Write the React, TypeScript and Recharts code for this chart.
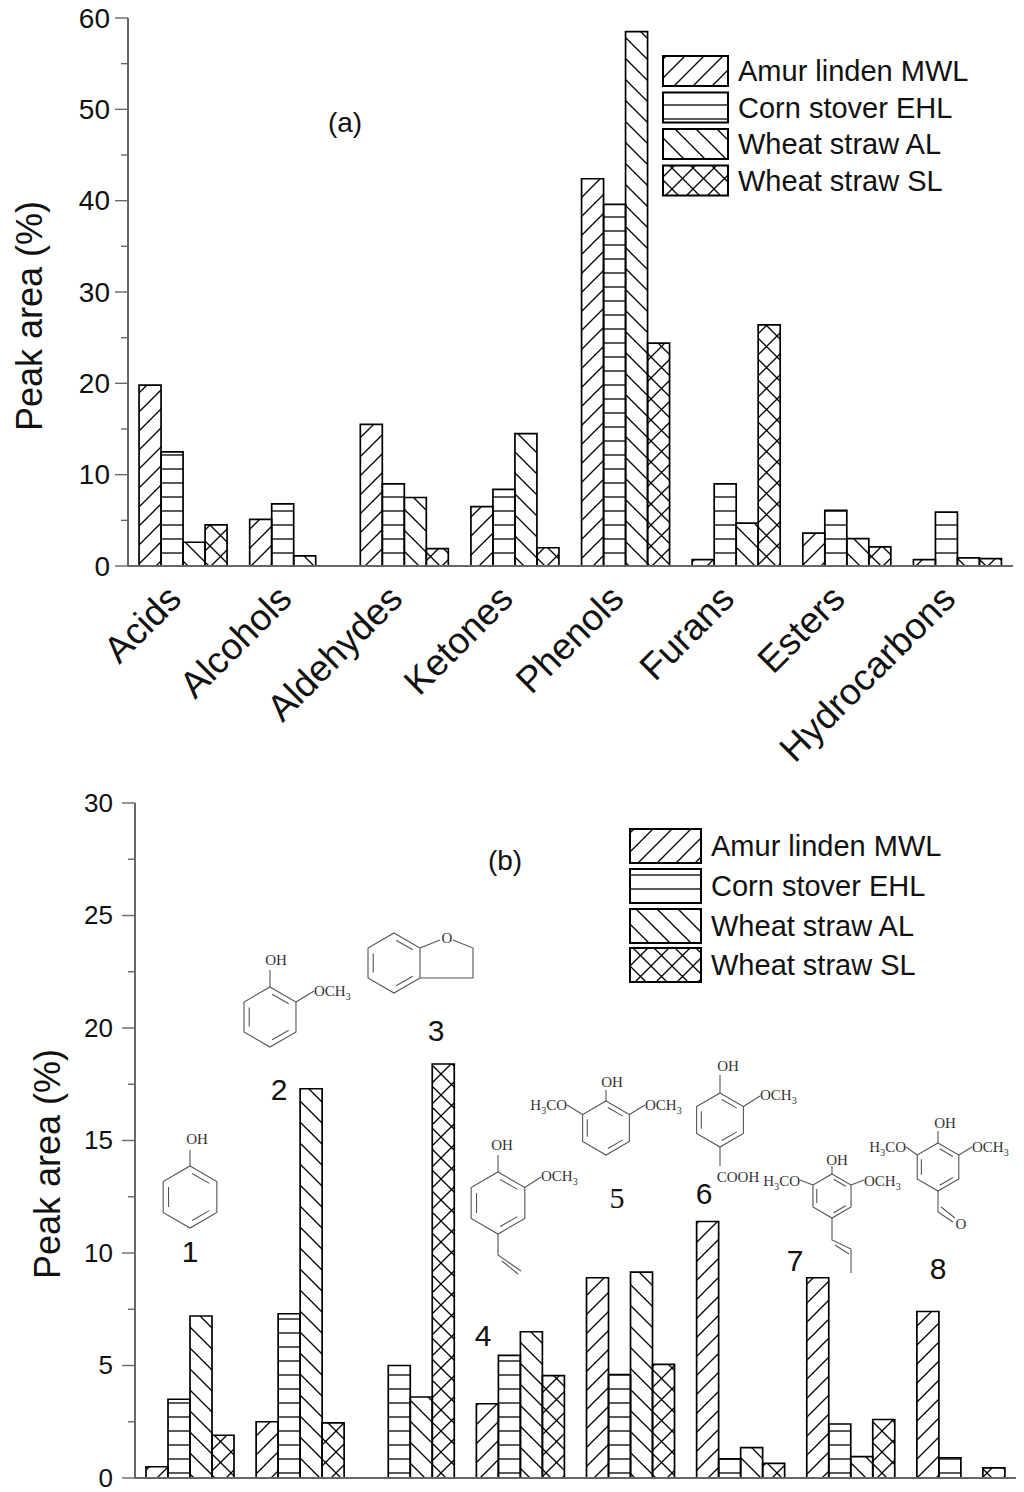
import React from 'react';
import { BarChart, Bar, XAxis, YAxis, Label } from 'recharts';

// panel (a): pyrolysis product classes
const classes = ['Acids', 'Alcohols', 'Aldehydes', 'Ketones', 'Phenols', 'Furans', 'Esters', 'Hydrocarbons'];
const amurA = [19.8, 5.1, 15.5, 6.5, 42.4, 0.7, 3.6, 0.7];
const cornA = [12.5, 6.8, 9.0, 8.4, 39.6, 9.0, 6.1, 5.9];
const wheatAlA = [2.6, 1.1, 7.5, 14.5, 58.5, 4.7, 3.0, 0.9];
const wheatSlA = [4.5, null, 1.9, 2.0, 24.4, 26.4, 2.1, 0.8];

// panel (b): individual phenolic compounds 1-8
const compounds = ['1', '2', '3', '4', '5', '6', '7', '8'];
const amurB = [0.5, 2.5, null, 3.3, 8.9, 11.4, 8.9, 7.4];
const cornB = [3.5, 7.3, 5.0, 5.45, 4.6, 0.85, 2.4, 0.9];
const wheatAlB = [7.2, 17.3, 3.6, 6.5, 9.15, 1.35, 0.95, null];
const wheatSlB = [1.9, 2.45, 18.4, 4.55, 5.05, 0.65, 2.6, 0.45];

const seriesNames = ['Amur linden MWL', 'Corn stover EHL', 'Wheat straw AL', 'Wheat straw SL'];
const ticksA = [0, 5, 10, 15, 20, 25, 30, 35, 40, 45, 50, 55, 60];
const ticksB = [0, 2.5, 5, 7.5, 10, 12.5, 15, 17.5, 20, 22.5, 25, 27.5, 30];

const dataA = classes.map((c, i) => ({ name: c, amur: amurA[i], corn: cornA[i], al: wheatAlA[i], sl: wheatSlA[i] }));
const dataB = compounds.map((c, i) => ({ name: c, amur: amurB[i], corn: cornB[i], al: wheatAlB[i], sl: wheatSlB[i] }));

const FONT = '"Liberation Sans", Arial, sans-serif';
const SERIF = '"Liberation Serif", "Times New Roman", serif';
const fills = ['url(#pAmur)', 'url(#pCorn)', 'url(#pAL)', 'url(#pSL)'];
const keys = ['amur', 'corn', 'al', 'sl'];
const FRAME = '#666';

const yTick = (left: number, major: number, gap: number, fs: number) => (props: any) => {
  const { y, payload } = props;
  const v = payload.value;
  const isMajor = Math.abs(v / major - Math.round(v / major)) < 1e-6;
  return (
    <g>
      <line x1={left - (isMajor ? 13 : 7)} x2={left} y1={y} y2={y} stroke={FRAME} strokeWidth={1.4} />
      {isMajor && (
        <text x={left - gap} y={y} dy="0.34em" textAnchor="end" fontSize={fs} fontFamily={FONT} fill="#111">
          {v}
        </text>
      )}
    </g>
  );
};

const xTickA = (props: any) => {
  const { x, payload } = props;
  return (
    <text
      transform={`translate(${x},${601}) rotate(-45)`}
      textAnchor="end"
      fontSize={37}
      fontFamily={FONT}
      fill="#111"
    >
      {payload.value}
    </text>
  );
};

const yLabel = (cx: number, cy: number) => () => (
  <text
    transform={`translate(${cx},${cy}) rotate(-90)`}
    textAnchor="middle"
    dy="0.36em"
    fontSize={36}
    fontFamily={FONT}
    fill="#111"
  >
    Peak area (%)
  </text>
);

const bars = () =>
  keys.map((k, i) => (
    <Bar
      key={k}
      dataKey={k}
      name={seriesNames[i]}
      xAxisId="b"
      yAxisId="l"
      fill={fills[i]}
      stroke="#000"
      strokeWidth={1.7}
      isAnimationActive={false}
    />
  ));

type Pt = [number, number];
const hex = (cx: number, cy: number, r: number): Pt[] =>
  [0, 1, 2, 3, 4, 5].map((i) => {
    const a = (Math.PI / 180) * (-90 + 60 * i);
    return [cx + r * Math.cos(a), cy + r * Math.sin(a)] as Pt;
  });

const SC = '#555';

const Ring = ({ cx, cy, r }: { cx: number; cy: number; r: number }) => {
  const p = hex(cx, cy, r);
  const inner = (i: number, j: number) => {
    const k = 0.8;
    const a = [cx + (p[i][0] - cx) * k, cy + (p[i][1] - cy) * k];
    const b = [cx + (p[j][0] - cx) * k, cy + (p[j][1] - cy) * k];
    const s = 0.1;
    return (
      <line
        x1={a[0] + (b[0] - a[0]) * s}
        y1={a[1] + (b[1] - a[1]) * s}
        x2={b[0] - (b[0] - a[0]) * s}
        y2={b[1] - (b[1] - a[1]) * s}
        stroke={SC}
        strokeWidth={1.1}
      />
    );
  };
  return (
    <g>
      <polygon points={p.map((q) => q.join(',')).join(' ')} fill="none" stroke={SC} strokeWidth={1.1} />
      {inner(0, 1)}
      {inner(2, 3)}
      {inner(4, 5)}
    </g>
  );
};

const bond = (pts: number[]) => <polyline points={pts.join(',')} fill="none" stroke={SC} strokeWidth={1.1} />;
const V = (cx: number, cy: number, r: number, i: number) => hex(cx, cy, r)[i];

const sub3 = (a: string, b: string) => (
  <>
    {a}
    <tspan dy={4} fontSize={10}>3</tspan>
    <tspan dy={-4}>{b}</tspan>
  </>
);

const Chem = ({ x, y, anchor = 'middle', children }: any) => (
  <text x={x} y={y} textAnchor={anchor} fontSize={15} fontFamily={SERIF} fill="#333">
    {children}
  </text>
);

const Structures = () => {
  const s4 = V(498, 1203, 31, 3);
  const s7 = V(832, 1196, 22, 3);
  const s8 = V(938, 1167, 24, 3);
  const s6 = V(720, 1120, 27, 3);
  return (
    <g>
      {/* 1 phenol */}
      <Ring cx={190} cy={1197} r={31} />
      {bond([190, 1166, 190, 1150])}
      <Chem x={197} y={1144}>OH</Chem>
      {/* 2 guaiacol */}
      <Ring cx={270} cy={1017} r={30} />
      {bond([270, 987, 270, 970])}
      <Chem x={276} y={965}>OH</Chem>
      {bond([...V(270, 1017, 30, 1), 314, 991])}
      <Chem x={314} y={996} anchor="start">{sub3('OCH', '')}</Chem>
      {/* 3 2,3-dihydrobenzofuran */}
      <Ring cx={394} cy={963} r={30} />
      {bond([...V(394, 963, 30, 1), 440, 940])}
      {bond([453, 940, 473, 948, 473, 978, ...V(394, 963, 30, 2)])}
      <Chem x={447} y={943}>O</Chem>
      {/* 4 4-vinylguaiacol */}
      <Ring cx={498} cy={1203} r={31} />
      {bond([498, 1172, 498, 1155])}
      <Chem x={502} y={1150}>OH</Chem>
      {bond([...V(498, 1203, 31, 1), 541, 1177])}
      <Chem x={541} y={1181} anchor="start">{sub3('OCH', '')}</Chem>
      {bond([s4[0], s4[1], s4[0], 1255, 521, 1271])}
      {bond([s4[0] + 4, 1261, 518, 1274])}
      {/* 5 syringol */}
      <Ring cx={606} cy={1128} r={27} />
      {bond([606, 1101, 606, 1090])}
      <Chem x={612} y={1087}>OH</Chem>
      {bond([...V(606, 1128, 27, 5), 567, 1105])}
      <Chem x={567} y={1110} anchor="end">{sub3('H', 'CO')}</Chem>
      {bond([...V(606, 1128, 27, 1), 645, 1105])}
      <Chem x={645} y={1110} anchor="start">{sub3('OCH', '')}</Chem>
      {/* 6 vanillic acid */}
      <Ring cx={720} cy={1120} r={27} />
      {bond([720, 1093, 720, 1075])}
      <Chem x={728} y={1071}>OH</Chem>
      {bond([...V(720, 1120, 27, 1), 760, 1096])}
      <Chem x={760} y={1100} anchor="start">{sub3('OCH', '')}</Chem>
      {bond([s6[0], s6[1], s6[0], 1166])}
      <Chem x={738} y={1182}>COOH</Chem>
      {/* 7 */}
      <Ring cx={832} cy={1196} r={22} />
      {bond([832, 1174, 832, 1166])}
      <Chem x={837} y={1165}>OH</Chem>
      {bond([...V(832, 1196, 22, 5), 800, 1180])}
      <Chem x={800} y={1186} anchor="end">{sub3('H', 'CO')}</Chem>
      {bond([...V(832, 1196, 22, 1), 864, 1180])}
      <Chem x={864} y={1186} anchor="start">{sub3('OCH', '')}</Chem>
      {bond([s7[0], s7[1], s7[0], 1240, 851, 1249, 851, 1273])}
      {bond([s7[0] + 3, 1245, 849, 1254])}
      {/* 8 syringaldehyde */}
      <Ring cx={938} cy={1167} r={24} />
      {bond([938, 1143, 938, 1131])}
      <Chem x={945} y={1128}>OH</Chem>
      {bond([...V(938, 1167, 24, 5), 906, 1147])}
      <Chem x={906} y={1152} anchor="end">{sub3('H', 'CO')}</Chem>
      {bond([...V(938, 1167, 24, 1), 972, 1147])}
      <Chem x={972} y={1152} anchor="start">{sub3('OCH', '')}</Chem>
      {bond([s8[0], s8[1], s8[0], 1212, 953, 1222])}
      {bond([s8[0] + 3, 1207, 955, 1218])}
      <Chem x={961} y={1229}>O</Chem>
    </g>
  );
};

const LegendBox = ({ x, tops, w, h, tx }: { x: number; tops: number[]; w: number; h: number; tx: number }) => (
  <g>
    {seriesNames.map((n, i) => (
      <g key={n}>
        <rect x={x} y={tops[i]} width={w} height={h} fill={fills[i]} stroke="#000" strokeWidth={2} />
        <text x={tx} y={tops[i] + h / 2} dy="0.36em" fontSize={29} fontFamily={FONT} fill="#111">
          {n}
        </text>
      </g>
    ))}
  </g>
);

const App = () => {
  return (
    <div style={{ position: 'absolute', left: 0, top: 0, width: 1024, height: 1492, background: '#fff' }}>
      <svg width={0} height={0} style={{ position: 'absolute' }}>
        <defs>
          <pattern id="pAmur" patternUnits="userSpaceOnUse" width={19} height={19}>
            <path d="M0,19 L19,0 M-5,5 L5,-5 M14,24 L24,14" stroke="#000" strokeWidth={1.3} />
          </pattern>
          <pattern id="pCorn" patternUnits="userSpaceOnUse" width={10} height={14}>
            <path d="M0,7 L10,7" stroke="#000" strokeWidth={1.3} />
          </pattern>
          <pattern id="pAL" patternUnits="userSpaceOnUse" width={21} height={21}>
            <path d="M0,0 L21,21 M-5,16 L5,26 M16,-5 L26,5" stroke="#000" strokeWidth={1.3} />
          </pattern>
          <pattern id="pSL" patternUnits="userSpaceOnUse" width={21} height={21}>
            <path d="M0,0 L21,21 M0,21 L21,0 M-5,16 L5,26 M16,-5 L26,5 M-5,5 L5,-5 M16,26 L26,16" stroke="#000" strokeWidth={1.3} />
          </pattern>
        </defs>
      </svg>

      <div style={{ position: 'absolute', left: 0, top: 0 }}>
        <BarChart width={1024} height={780} data={dataA} margin={{ top: 18, right: 11, bottom: 0, left: 0 }} barCategoryGap="10%" barGap={0}>
          <XAxis xAxisId="b" dataKey="name" height={214} interval={0} tick={xTickA} tickLine={false} axisLine={{ stroke: FRAME, strokeWidth: 2 }} />
          <XAxis xAxisId="t" dataKey="name" orientation="top" height={0} tick={false} tickLine={false} axisLine={{ stroke: FRAME, strokeWidth: 2 }} />
          <YAxis yAxisId="l" width={128} domain={[0, 60]} ticks={ticksA} interval={0} tick={yTick(128, 10, 18, 28)} tickLine={false} axisLine={{ stroke: FRAME, strokeWidth: 2 }}>
            <Label content={yLabel(29, 316)} />
          </YAxis>
          <YAxis yAxisId="r" orientation="right" width={0} domain={[0, 60]} tick={false} tickLine={false} axisLine={{ stroke: FRAME, strokeWidth: 2 }} />
          {bars()}
        </BarChart>
      </div>

      <div style={{ position: 'absolute', left: 0, top: 780 }}>
        <BarChart width={1024} height={712} data={dataB} margin={{ top: 23, right: 8, bottom: 0, left: 0 }} barCategoryGap="10%" barGap={0}>
          <XAxis xAxisId="b" dataKey="name" height={14} tick={false} tickLine={false} axisLine={{ stroke: FRAME, strokeWidth: 2 }} />
          <XAxis xAxisId="t" dataKey="name" orientation="top" height={0} tick={false} tickLine={false} axisLine={{ stroke: FRAME, strokeWidth: 2 }} />
          <YAxis yAxisId="l" width={135} domain={[0, 30]} ticks={ticksB} interval={0} tick={yTick(135, 5, 22, 26)} tickLine={false} axisLine={{ stroke: FRAME, strokeWidth: 2 }}>
            <Label content={yLabel(47, 384)} />
          </YAxis>
          <YAxis yAxisId="r" orientation="right" width={0} domain={[0, 30]} tick={false} tickLine={false} axisLine={{ stroke: FRAME, strokeWidth: 2 }} />
          {bars()}
        </BarChart>
      </div>

      <svg width={1024} height={1492} style={{ position: 'absolute', left: 0, top: 0, pointerEvents: 'none' }}>
        <LegendBox x={663} tops={[56, 92.5, 129, 165.5]} w={65} h={30} tx={738} />
        <LegendBox x={630} tops={[829, 869, 909, 948]} w={71} h={34} tx={711} />
        <text x={345} y={122} dy="0.36em" textAnchor="middle" fontSize={28} fontFamily={FONT} fill="#111">(a)</text>
        <text x={505} y={860} dy="0.36em" textAnchor="middle" fontSize={28} fontFamily={FONT} fill="#111">(b)</text>
        <g fontSize={30} fontFamily={FONT} fill="#111" textAnchor="middle">
          <text x={190} y={1251} dy="0.36em">1</text>
          <text x={279} y={1089} dy="0.36em">2</text>
          <text x={436} y={1030} dy="0.36em">3</text>
          <text x={483} y={1335} dy="0.36em">4</text>
          <text x={617} y={1197} dy="0.36em" fontFamily={SERIF}>5</text>
          <text x={704} y={1193} dy="0.36em">6</text>
          <text x={795} y={1260} dy="0.36em">7</text>
          <text x={938} y={1268} dy="0.36em">8</text>
        </g>
        <Structures />
      </svg>
    </div>
  );
};

export default App;
